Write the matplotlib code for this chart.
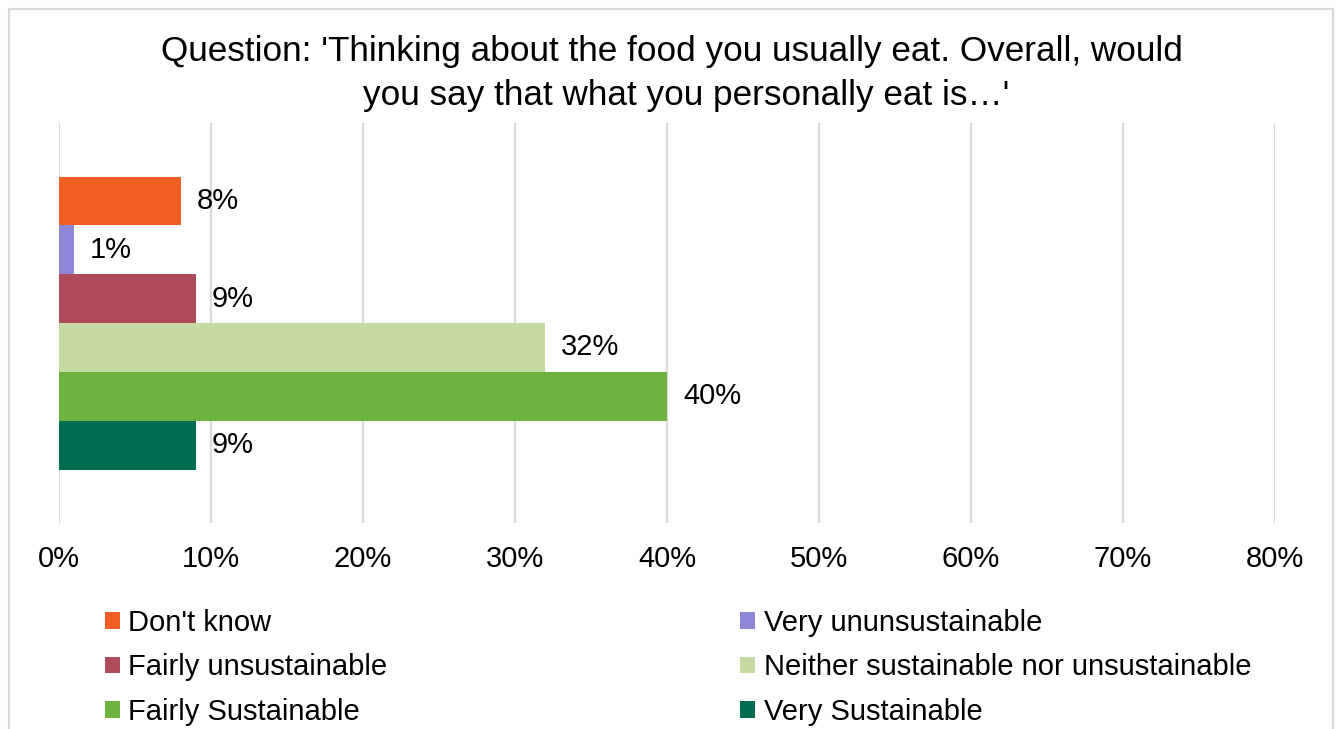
import matplotlib.pyplot as plt
from matplotlib.patches import Rectangle
import numpy as np

categories = ["Don't know", "Very ununsustainable", "Fairly unsustainable",
              "Neither sustainable nor unsustainable", "Fairly Sustainable",
              "Very Sustainable"]
shares = [0.08, 0.01, 0.09, 0.32, 0.40, 0.09]
colors = ['#F15F24', '#8E86D8', '#AF4A5A', '#C5DAA2', '#6DB33F', '#006F51']
x_ticks = [0.0, 0.1, 0.2, 0.3, 0.4, 0.5, 0.6, 0.7, 0.8]
title_lines = ["Question: 'Thinking about the food you usually eat. Overall, would",
               "you say that what you personally eat is\u2026'"]

plt.rcParams['font.family'] = ['Liberation Sans', 'DejaVu Sans']

W, H = 1338, 729
fs = 21
fig = plt.figure(figsize=(W / 100, H / 100), dpi=100)
ax = fig.add_axes([59 / W, 1 - 523 / H, (1275 - 59) / W, 400 / H])

# one category, six series stacked top to bottom
bar_h = 0.7325 / len(shares)
offsets = (np.arange(len(shares))[::-1] - (len(shares) - 1) / 2) * bar_h
handles = []
for off, val, col, lab in zip(offsets, shares, colors, categories):
    b = ax.barh(off, val, height=bar_h, color=col, label=lab, zorder=3)
    ax.bar_label(b, labels=['{:.0%}'.format(val)], padding=11.5, fontsize=fs)
    handles.append(b)

ax.set_xlim(0, 0.8)
ax.set_ylim(-0.5, 0.5)
ax.set_xticks(x_ticks)
ax.set_xticklabels(['{:.0%}'.format(t) for t in x_ticks], fontsize=fs)
ax.set_yticks([])
ax.tick_params(axis='x', length=0, pad=16)
ax.grid(axis='x', color='#D9D9D9', linewidth=1.6, zorder=0)
for s in ax.spines.values():
    s.set_visible(False)

fig.text(672 / W, 1 - 61 / H, title_lines[0], ha='center', va='baseline', fontsize=25.3)
fig.text(686 / W, 1 - 105 / H, title_lines[1], ha='center', va='baseline', fontsize=25.3)

order = [0, 2, 4, 1, 3, 5]
fig.legend([handles[i] for i in order], [categories[i] for i in order],
           ncol=2, loc='upper left', bbox_to_anchor=(105 / W, 1 - 609 / H),
           frameon=False, fontsize=fs, borderpad=0, borderaxespad=0,
           handlelength=0.5, handleheight=0.5, handletextpad=0.3,
           labelspacing=0.56, columnspacing=12.1)

fig.patches.append(Rectangle((9 / W, -0.05), (1333 - 9) / W, 1.05 - 9 / H,
                             transform=fig.transFigure, fill=False,
                             edgecolor='#D9D9D9', linewidth=1.5))

fig.savefig('out.png', dpi=100)
